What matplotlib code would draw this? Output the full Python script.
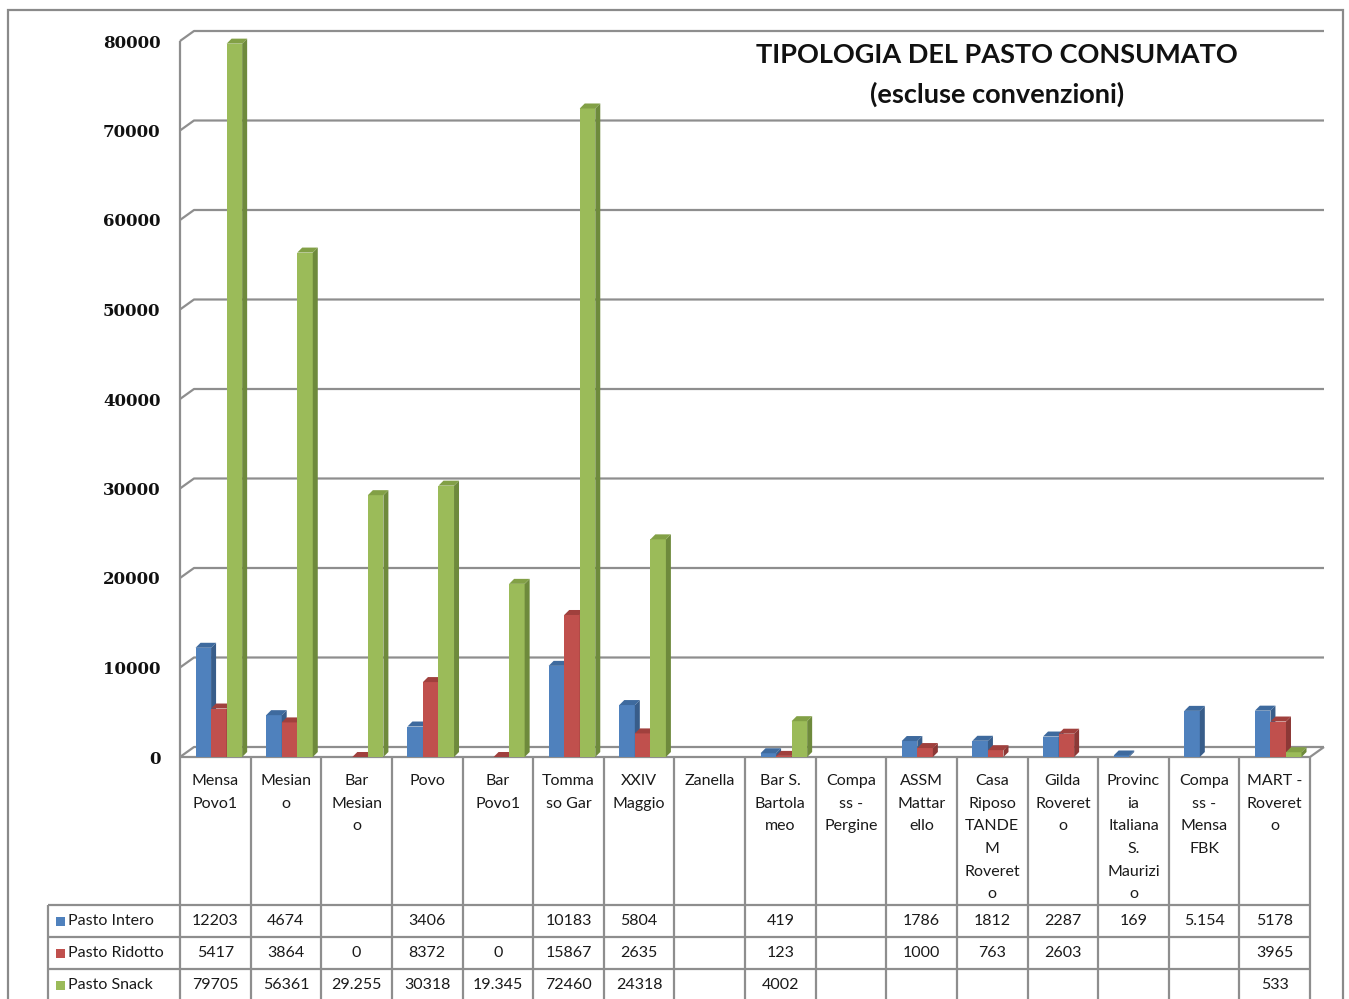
import matplotlib
matplotlib.use("Agg")
import matplotlib.pyplot as plt
import numpy as np
from matplotlib.lines import Line2D
from matplotlib.patches import Polygon, Rectangle
from matplotlib.transforms import IdentityTransform

# ---------------- data ----------------
categories = ["Mensa\nPovo1", "Mesian\no", "Bar\nMesian\no", "Povo", "Bar\nPovo1",
              "Tomma\nso Gar", "XXIV\nMaggio", "Zanella", "Bar S.\nBartola\nmeo",
              "Compa\nss -\nPergine", "ASSM\nMattar\nello", "Casa\nRiposo\nTANDE\nM\nRoveret\no",
              "Gilda\nRoveret\no", "Provinc\nia\nItaliana\nS.\nMaurizi\no",
              "Compa\nss -\nMensa\nFBK", "MART -\nRoveret\no"]
series_names = ["Pasto Intero", "Pasto Ridotto", "Pasto Snack"]
pasto_intero = [12203, 4674, None, 3406, None, 10183, 5804, None, 419, None,
                1786, 1812, 2287, 169, 5154, 5178]
pasto_ridotto = [5417, 3864, 0, 8372, 0, 15867, 2635, None, 123, None,
                 1000, 763, 2603, None, None, 3965]
pasto_snack = [79705, 56361, 29255, 30318, 19345, 72460, 24318, None, 4002, None,
               None, None, None, None, None, 533]
# table texts as printed in the source
intero_txt = ["12203", "4674", "", "3406", "", "10183", "5804", "", "419", "",
              "1786", "1812", "2287", "169", "5.154", "5178"]
ridotto_txt = ["5417", "3864", "0", "8372", "0", "15867", "2635", "", "123", "",
               "1000", "763", "2603", "", "", "3965"]
snack_txt = ["79705", "56361", "29.255", "30318", "19.345", "72460", "24318", "", "4002", "",
             "", "", "", "", "", "533"]
yticks = [0, 10000, 20000, 30000, 40000, 50000, 60000, 70000, 80000]
title = "TIPOLOGIA DEL PASTO CONSUMATO\n(escluse convenzioni)"

front_cols = ["#4F81BD", "#C0504D", "#9BBB59"]
side_cols = ["#385D8A", "#8C3836", "#6E8A3C"]
top_cols = ["#3E6A9E", "#A0403D", "#82A046"]

W, H = 1349, 999
fig = plt.figure(figsize=(W / 100, H / 100), dpi=100)
fig.patch.set_facecolor("white")

def py(img_y):
    return H - img_y

ax = fig.add_axes([180 / W, 1 - 757 / H, (1310 - 180) / W, (757 - 41) / H])
ax.set_xlim(-0.5, len(categories) - 0.5)
ax.set_ylim(0, 80000)
ax.patch.set_visible(False)
for s in ax.spines.values():
    s.set_visible(False)
ax.set_xticks([])
ax.set_yticks(yticks)
ax.set_yticklabels([str(v) for v in yticks], fontfamily="DejaVu Serif",
                   fontweight="bold", fontsize=12, color="#111111")
ax.tick_params(axis="y", length=0, pad=14)

GRID = "#8E8E8E"
LW = 1.6
idt = IdentityTransform()
DX, DY = 14, 10  # wall depth in pixels

def fline(xs, ys, z=-1, color=GRID, lw=LW):
    fig.add_artist(Line2D(xs, ys, transform=idt, color=color, lw=lw, zorder=z,
                          solid_capstyle="butt"))

x0, x1 = -0.5, len(categories) - 0.5
for v in yticks:
    (fx0, fy), = ax.transData.transform([(x0, v)])
    (fx1, _), = ax.transData.transform([(x1, v)])
    fline([fx0, fx0 + DX, fx1 + DX], [fy, fy + DY, fy + DY])
# floor front edge and right slant
(fx0, fy0), = ax.transData.transform([(x0, 0)])
(fx1, _), = ax.transData.transform([(x1, 0)])
fline([fx0, fx1, fx1 + DX], [fy0, fy0, fy0 + DY])
# left wall
(_, fytop), = ax.transData.transform([(x0, 80000)])
fline([fx0, fx0], [fy0, fytop])

# ---------------- bars ----------------
bw = 0.22
shift = 0.05
sdx, sdy = 5, 5
all_series = [pasto_intero, pasto_ridotto, pasto_snack]
xs = np.arange(len(categories))
for si, vals in enumerate(all_series):
    vv = np.array([np.nan if v is None else v for v in vals], dtype=float)
    pos = xs + shift + (si - 1) * bw
    z = 3 + si
    bars = ax.bar(pos, np.nan_to_num(vv), width=bw, color=front_cols[si],
                  edgecolor="none", zorder=z)
    for b, v in zip(bars, vv):
        if np.isnan(v):
            b.set_visible(False)
            continue
        (l, bt), (r, tp) = ax.transData.transform([(b.get_x(), 0), (b.get_x() + b.get_width(), v)])
        side = Polygon([(r, bt), (r + sdx, bt + sdy), (r + sdx, tp + sdy), (r, tp)],
                       closed=True, transform=idt, facecolor=side_cols[si],
                       edgecolor="none", zorder=z, clip_on=False)
        top = Polygon([(l, tp), (l + sdx, tp + sdy), (r + sdx, tp + sdy), (r, tp)],
                      closed=True, transform=idt, facecolor=top_cols[si],
                      edgecolor="none", zorder=z, clip_on=False)
        ax.add_patch(side)
        ax.add_patch(top)

# ---------------- title ----------------
fig.text(997 / W, py(75) / H, title, ha="center", va="center", fontfamily="Lato",
         fontweight="bold", fontsize=19.5, linespacing=1.68, color="#111111")

# ---------------- table ----------------
TL = "#8E8E8E"
bounds = [ax.transData.transform([(i - 0.5, 0)])[0][0] for i in range(len(categories) + 1)]
for bx in bounds:
    fline([bx, bx], [py(757), py(1002)], z=1, color=TL)
leftx = 48
for yy in [905, 937, 969]:
    fline([leftx, bounds[-1]], [py(yy), py(yy)], z=1, color=TL)
fline([leftx, leftx], [py(905), py(1002)], z=1, color=TL)

tfont = dict(fontfamily="Lato", fontsize=11.5, color="#1A1A1A")
for i, lab in enumerate(categories):
    cx = (bounds[i] + bounds[i + 1]) / 2
    fig.text(cx / W, py(774) / H, lab, ha="center", va="top", linespacing=1.79,
             **tfont)

row_y = [921, 953, 985]
row_txt = [intero_txt, ridotto_txt, snack_txt]
for ri in range(3):
    for i, t in enumerate(row_txt[ri]):
        if t:
            cx = (bounds[i] + bounds[i + 1]) / 2
            fig.text(cx / W, py(row_y[ri]) / H, t, ha="center", va="center", **tfont)
    fig.add_artist(Rectangle((56, py(row_y[ri]) - 4.5), 9, 9, transform=idt,
                             facecolor=front_cols[ri], edgecolor="none", zorder=2))
    fig.text(68 / W, py(row_y[ri]) / H, series_names[ri], ha="left", va="center", **tfont)

# outer border
fig.add_artist(Rectangle((8, py(1010)), 1343 - 8, 1010 - 10, transform=idt,
                         facecolor="none", edgecolor="#8A8A8A", lw=1.6, zorder=0))

fig.savefig("out.png", dpi=100)
